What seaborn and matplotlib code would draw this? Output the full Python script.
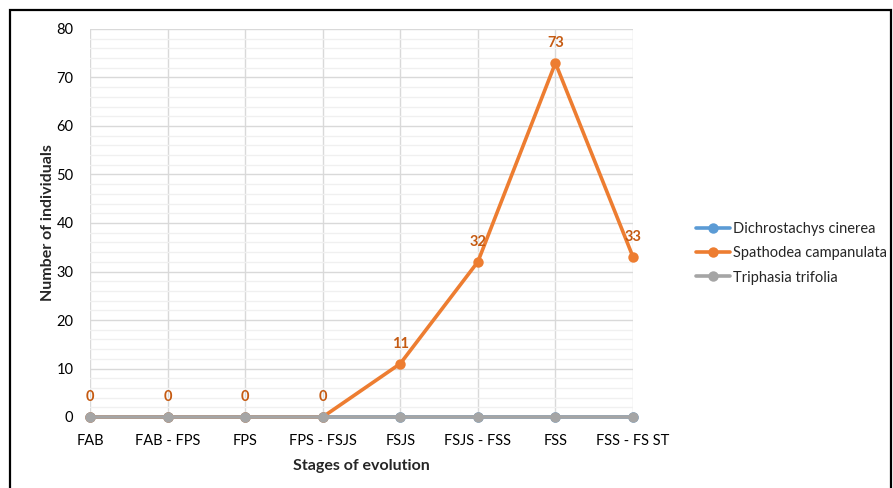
import matplotlib
matplotlib.use("Agg")
import matplotlib.pyplot as plt
from matplotlib.patches import Rectangle
from matplotlib.lines import Line2D
from matplotlib.ticker import MultipleLocator
import seaborn as sns
import pandas as pd

stages = ["FAB", "FAB - FPS", "FPS", "FPS - FSJS", "FSJS", "FSJS - FSS", "FSS", "FSS - FS ST"]
species = ["Dichrostachys cinerea", "Spathodea campanulata", "Triphasia trifolia"]
dichrostachys = [0, 0, 0, 0, 0, 0, 0, 0]
spathodea = [0, 0, 0, 0, 11, 32, 73, 33]
triphasia = [0, 0, 0, 0, 0, 0, 0, 0]
colors = ["#5B9BD5", "#ED7D31", "#A5A5A5"]
label_color = "#C55A11"

sns.set_theme(style="white")
plt.rcParams["font.family"] = ["Lato", "DejaVu Sans"]

rows = []
for name, vals in zip(species, [dichrostachys, spathodea, triphasia]):
    for s, v in zip(stages, vals):
        rows.append({"stage": s, "count": v, "species": name})
df = pd.DataFrame(rows)

fig = plt.figure(figsize=(8.93, 4.88), dpi=100)
ax = fig.add_axes([90 / 893, 1 - 417 / 488, (633 - 90) / 893, (417 - 29) / 488])

sns.lineplot(data=df, x="stage", y="count", hue="species", hue_order=species,
             palette=colors, marker="o", markersize=7.5, markeredgewidth=0,
             linewidth=2.6, sort=False, ax=ax, legend=False)
for i, line in enumerate(ax.get_lines()):
    line.set_clip_on(False)
    line.set_zorder(3 + i)

ax.set_xlim(0, len(stages) - 1)
ax.set_ylim(0, 80)
ax.yaxis.set_major_locator(MultipleLocator(10))
ax.yaxis.set_minor_locator(MultipleLocator(2))
ax.grid(axis="y", which="major", color="#D9D9D9", linewidth=1.0, zorder=0)
ax.grid(axis="y", which="minor", color="#F0F0F0", linewidth=1.0, zorder=0)
ax.grid(axis="x", which="major", color="#D9D9D9", linewidth=1.0, zorder=0)
ax.set_axisbelow(True)
for sp in ax.spines.values():
    sp.set_visible(False)
ax.tick_params(axis="both", which="both", length=0, labelsize=10.5, colors="#000000")
ax.tick_params(axis="y", pad=12)
ax.tick_params(axis="x", pad=12)

for i, v in enumerate(spathodea):
    ax.annotate(str(v), (i, v), xytext=(0, 14.5), textcoords="offset points",
                ha="center", va="center", fontsize=10.5, fontweight="bold",
                color=label_color, zorder=10)

ax.set_xlabel("Stages of evolution", fontsize=11.5, fontweight="bold", labelpad=8)
ax.set_ylabel("Number of individuals", fontsize=11.5, fontweight="bold", labelpad=1)

handles = [Line2D([0], [0], color=c, linewidth=2.6, marker="o", markersize=7.5,
                  markeredgewidth=0) for c in colors]
fig.legend(handles, species, loc="upper left",
           bbox_to_anchor=(683 / 893, 1 - 209 / 488), frameon=False,
           fontsize=10.5, handlelength=2.3, handletextpad=0.2, labelspacing=0.7)

fig.patches.append(Rectangle((10 / 893, -0.05), (891 - 10) / 893, 1.05 - 9.5 / 488,
                             transform=fig.transFigure, fill=False,
                             edgecolor="black", linewidth=1.6))

fig.savefig("out.png", dpi=100)
